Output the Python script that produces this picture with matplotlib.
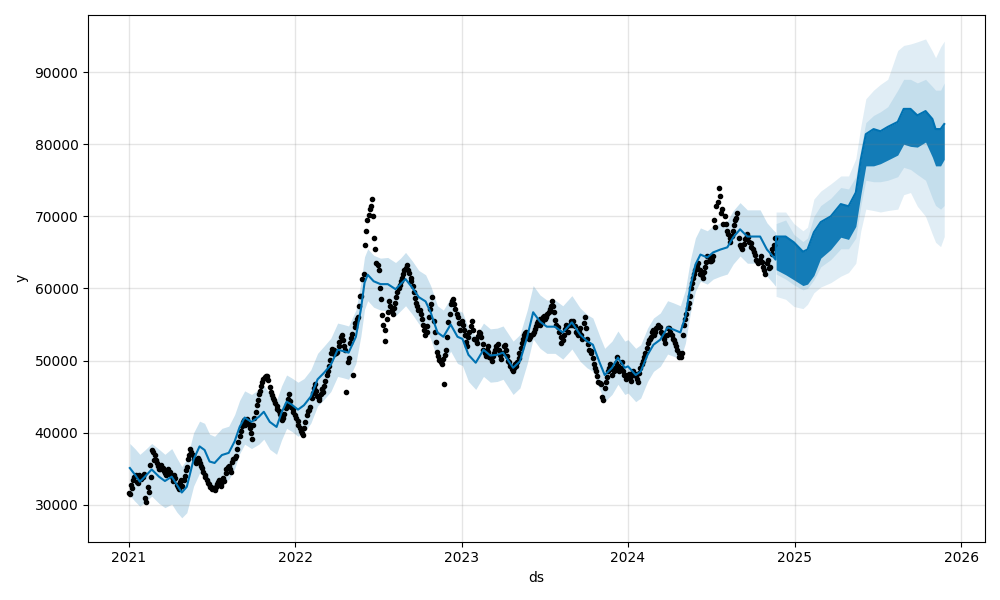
import matplotlib
matplotlib.use("Agg")
import matplotlib.pyplot as plt
import matplotlib.dates as mdates
import pandas as pd

# ---------------- observed points (6 per month per set, days below) ----------------
obs_days_a = [3, 8, 13, 18, 23, 28]
obs_days_b = [1, 6, 11, 16, 21, 26]
obs_2021 = [31500, 32300, 33800, 33200, 34200, 33600,
            34300, 30400, 31800, 33900, 37300, 36900,
            35800, 35000, 35500, 34700, 34100, 34900,
            34200, 33300, 33700, 32400, 33100, 32600,
            34000, 35300, 36900, 37300, 36400, 35800,
            36200, 35400, 34600, 33800, 33000, 32500,
            32200, 32000, 32900, 33500, 32600, 33300,
            34900, 35400, 34500, 36300, 36800, 38700,
            40200, 41500, 41000, 41900, 40600, 39100,
            42000, 43900, 45300, 46500, 47500, 47900,
            47300, 45600, 44800, 44100, 43300, 42600,
            41800, 42600, 44000, 45300, 43600, 42900]
obs_2021b = [31700, 32800, 33400, 34100, 33000, 33900,
             33800, 31000, 32500, 35500, 37600, 36200,
             36200, 35400, 34900, 35100, 34400, 34500,
             34600, 33800, 34100, 32800, 32200, 33400,
             33500, 34800, 36400, 37800, 36900, 36100,
             36500, 35800, 35100, 34200, 33400, 32900,
             32500, 32300, 32400, 33200, 32900, 33700,
             34400, 35200, 34900, 35900, 36500, 37800,
             39600, 40900, 41700, 41300, 41200, 40000,
             41000, 42800, 44600, 45800, 47000, 47700,
             47800, 46300, 45200, 44500, 43700, 43000,
             42300, 42000, 43400, 44700, 44400, 43300]
obs_2022 = [42000, 41000, 40200, 39700, 41500, 43000,
            43600, 45500, 46800, 45100, 44500, 46100,
            45600, 47100, 48600, 50100, 51600, 50900,
            51200, 52600, 53600, 52000, 45700, 50300,
            53100, 48000, 54600, 56000, 58900, 61300,
            66000, 69500, 71000, 72400, 67000, 63500,
            62500, 58500, 55000, 52700, 56800, 57500,
            56500, 58000, 59500, 60500, 61500, 62500,
            63300, 62200, 61000, 59500, 58000, 57000,
            56500, 55000, 53500, 54800, 57200, 58800,
            54000, 51200, 50100, 49500, 46800, 51500,
            55300, 57800, 58600, 57100, 56000, 54200]
obs_2022b = [42400, 41600, 40700, 40000, 40600, 42400,
             43200, 44800, 46200, 45800, 44800, 45400,
             46000, 46500, 48000, 49300, 51000, 51400,
             51000, 52000, 53200, 52800, 51500, 49800,
             52500, 53700, 55200, 55700, 57500, 59000,
             62000, 68000, 70200, 71500, 70000, 65500,
             63300, 60000, 56300, 54200, 55800, 58200,
             57000, 57300, 58800, 60000, 61000, 62000,
             62800, 62600, 61500, 60300, 58700, 57500,
             57000, 55800, 54300, 53900, 56000, 57900,
             55500, 52600, 50600, 49800, 50200, 50800,
             53200, 56500, 58200, 57800, 56500, 55200]
obs_2023 = [55000, 53500, 52000, 54000, 55500, 53000,
            52500, 54000, 53200, 51500, 50600, 52000,
            50500, 50000, 51000, 52000, 51500, 50200,
            52000, 51500, 50000, 49200, 48500, 49500,
            49800, 51000, 52500, 53500, 54000, 53000,
            53500, 54000, 54800, 55500, 55000, 56000,
            55800, 56500, 57200, 58200, 56800, 55000,
            54000, 52500, 53500, 55000, 54000, 55500,
            55500, 54000, 53500, 54500, 53000, 56100,
            53000, 51500, 51000, 49500, 48500, 47000,
            46700, 44500, 47000, 48500, 49500, 48000,
            49000, 50500, 48500, 49800, 48000, 47500]
obs_2023b = [55500, 54300, 52600, 53200, 54800, 54200,
             52800, 53400, 53800, 52300, 51000, 51400,
             51200, 50300, 50600, 51500, 52300, 50800,
             51000, 52200, 50600, 49800, 48800, 49000,
             49300, 50400, 51800, 53000, 53800, 53500,
             53200, 53700, 54400, 55200, 55700, 55300,
             56200, 56000, 56800, 57600, 57500, 55600,
             54600, 53200, 52800, 54400, 54800, 55000,
             55000, 54800, 53800, 54000, 53600, 55200,
             54500, 52300, 51300, 50300, 49000, 47800,
             46900, 45000, 46200, 47700, 49000, 48800,
             48500, 49700, 49300, 49000, 48600, 48000]
obs_2024 = [48200, 47200, 48500, 47800, 47000, 49000,
            50000, 51000, 52500, 53000, 54000, 53500,
            54500, 55000, 54000, 53500, 52500, 54500,
            54000, 53000, 52500, 51500, 50500, 51000,
            55000, 56500, 58000, 60000, 61500, 62500,
            63500, 62000, 61500, 63000, 64500, 63800,
            64000, 69500, 71500, 73900, 70500, 69000,
            69000, 67500, 66500, 68000, 69500, 70500,
            66000, 65500, 66800, 67500, 66500, 65800,
            65000, 64000, 63500, 64500, 63000, 62000,
            64000, 63000, 65500, 67000]
obs_2024b = [47800, 47600, 48000, 48200, 47400, 48300,
             49500, 50500, 51800, 52800, 53300, 54200,
             54000, 54700, 54600, 53800, 53000, 53600,
             54500, 53500, 52800, 52000, 51000, 50500,
             53500, 55800, 57300, 59000, 60800, 62000,
             63000, 62500, 61800, 62300, 63700, 64300,
             63800, 64500, 68500, 72000, 72800, 71000,
             70000, 68000, 67000, 67300, 68800, 69800,
             67000, 65800, 66200, 67000, 67200, 66300,
             65500, 64600, 63800, 64000, 63600, 62600,
             63500, 62800, 64800, 66000]

# ---------------- fitted history (yhat with interval) ----------------
hist_dates = ["2021-01-03", "2021-01-14", "2021-01-25", "2021-02-05", "2021-02-20", "2021-03-08",
              "2021-03-21", "2021-04-05", "2021-04-16", "2021-04-27", "2021-05-08", "2021-05-23",
              "2021-06-05", "2021-06-16", "2021-06-27", "2021-07-08", "2021-07-24", "2021-08-08",
              "2021-08-21", "2021-09-01", "2021-09-12", "2021-09-27", "2021-10-13", "2021-10-24",
              "2021-11-06", "2021-11-21", "2021-12-02", "2021-12-13", "2021-12-24",
              "2022-01-07", "2022-01-20", "2022-02-04", "2022-02-19", "2022-03-05", "2022-03-20",
              "2022-04-04", "2022-04-17", "2022-04-28", "2022-05-14", "2022-05-25", "2022-06-02",
              "2022-06-09", "2022-06-22", "2022-07-07", "2022-07-23", "2022-08-09", "2022-08-20",
              "2022-08-31", "2022-09-15", "2022-09-29", "2022-10-14", "2022-10-25", "2022-11-09",
              "2022-11-22", "2022-12-08", "2022-12-23",
              "2023-01-03", "2023-01-16", "2023-02-01", "2023-02-18", "2023-03-05", "2023-03-20",
              "2023-04-02", "2023-04-24", "2023-05-09", "2023-05-25", "2023-06-07", "2023-06-22",
              "2023-07-07", "2023-07-25", "2023-08-11", "2023-08-31", "2023-09-18", "2023-10-03",
              "2023-10-16", "2023-10-31", "2023-11-11", "2023-11-27", "2023-12-10", "2023-12-25",
              "2024-01-01", "2024-01-18", "2024-01-29", "2024-02-13", "2024-02-26", "2024-03-12",
              "2024-03-28", "2024-04-10", "2024-04-25", "2024-05-06", "2024-05-17", "2024-05-28",
              "2024-06-08", "2024-06-23", "2024-07-06", "2024-07-22", "2024-08-06", "2024-08-19",
              "2024-09-03", "2024-09-19", "2024-10-02", "2024-10-17", "2024-11-01", "2024-11-15",
              "2024-11-20"]
hist_yhat = [35100, 34200, 33200, 33900, 34900, 33900, 33300, 33900, 32800, 31700, 32500, 36300,
             38100, 37600, 36000, 35800, 36900, 37200, 38800, 40800, 42100, 41500, 42200, 42900,
             41500, 40800, 42800, 44300, 43900,
             43200, 43800, 45000, 47400, 48300, 49400, 51500, 51300, 51100, 53300, 57100, 60800,
             61900, 61000, 60600, 60600, 59900, 60600, 61300, 60100, 58800, 58200, 56700, 53900,
             53300, 55000, 53300,
             53000, 50800, 49700, 51500, 50700, 50800, 51100, 49000, 49900, 53300, 56700, 55400,
             54700, 54700, 53900, 55300, 53600, 52700, 52200, 49700, 48000, 49000, 50400, 49000,
             49200, 48000, 48500, 50800, 52200, 52900, 54600, 54300, 53900, 56100, 60300, 63300,
             64700, 64300, 65000, 65400, 65700, 67100, 68200, 67200, 67200, 67200, 65400, 64400,
             64000]
hist_upper = [38500, 37800, 37000, 37600, 38500, 37700, 37000, 37800, 36500, 35300, 36300, 40000,
              41600, 41300, 39800, 39500, 40600, 40900, 42500, 44500, 45800, 45300, 46000, 46600,
              45400, 44500, 46500, 48000, 47600,
              47000, 47500, 48700, 51000, 52000, 53100, 55200, 55000, 54800, 57000, 60800, 64400,
              65500, 64600, 64200, 64300, 63600, 64200, 65000, 63800, 62500, 61900, 60400, 57600,
              57000, 58700, 57000,
              56700, 54500, 53400, 55200, 54400, 54500, 54800, 52700, 53600, 57000, 60400, 59100,
              58400, 58400, 57600, 59000, 57300, 56400, 55900, 53400, 51700, 52700, 54100, 52700,
              52900, 51700, 52200, 54500, 55900, 56600, 58300, 58000, 57600, 59800, 64000, 67000,
              68400, 68000, 68700, 69100, 69400, 70800, 71900, 70900, 70900, 70900, 69100, 68100,
              67800]
hist_lower = [31300, 30500, 29800, 30300, 31200, 30200, 29600, 30100, 29000, 28200, 28900, 32600,
              34400, 33900, 32300, 32100, 33200, 33500, 35000, 37100, 38400, 37800, 38400, 39100,
              37700, 37000, 39000, 40600, 40200,
              39500, 40000, 41300, 43700, 44600, 45700, 47800, 47600, 47400, 49600, 53400, 57100,
              58300, 57400, 57000, 56900, 56200, 56900, 57600, 56400, 55100, 54500, 53000, 50200,
              49600, 51300, 49600,
              49300, 47100, 46000, 47800, 47000, 47100, 47400, 45300, 46200, 49600, 53000, 51700,
              51000, 51000, 50200, 51600, 49900, 49000, 48500, 46000, 44300, 45300, 46700, 45300,
              45500, 44300, 44800, 47100, 48500, 49200, 50900, 50600, 50200, 52400, 56600, 59600,
              61000, 60600, 61300, 61700, 62000, 63400, 64500, 63500, 63500, 63500, 61700, 60700,
              60300]

# ---------------- forecast (weekday / weekend envelopes) ----------------
fc_dates = ["2024-11-21", "2024-12-12", "2024-12-30", "2025-01-19", "2025-01-29", "2025-02-12",
            "2025-02-27", "2025-03-21", "2025-04-12", "2025-04-29", "2025-05-15", "2025-05-26",
            "2025-06-06", "2025-06-23", "2025-07-08", "2025-07-24", "2025-08-15", "2025-08-28",
            "2025-09-12", "2025-09-27", "2025-10-15", "2025-10-30", "2025-11-06", "2025-11-17",
            "2025-11-25"]
fc_hi = [67200, 67200, 66400, 65100, 65400, 67800, 69200, 70000, 71700, 71400, 73300, 77900,
         81400, 82100, 81800, 82400, 83100, 84900, 84900, 84000, 84600, 83500, 82100, 82100, 82800]
fc_lo = [62600, 61900, 61200, 60400, 60600, 61800, 64200, 65400, 67100, 66800, 68600, 73000,
         77000, 77000, 77300, 77800, 78500, 80000, 79700, 79600, 80300, 78200, 77000, 77000, 77900]
fc_up_spike = [70600, 70600, 69000, 68000, 68500, 72400, 73500, 74500, 75600, 75600, 78000, 82500,
               86300, 87500, 88300, 89000, 93000, 93700, 93900, 94200, 94600, 92900, 92000, 93500, 94300]
fc_up_solid = [69000, 69500, 67500, 66500, 67000, 70000, 71500, 72500, 74000, 73800, 75500, 79500,
               83000, 84000, 84500, 85200, 87500, 89000, 89000, 88500, 89000, 88000, 87500, 87500, 88500]
fc_low_solid = [62000, 61300, 60500, 59800, 60000, 61200, 63000, 64000, 65500, 65500, 67000, 71500,
                75000, 74800, 74800, 75000, 75500, 76800, 76500, 75800, 75000, 72500, 71500, 71000, 71500]
fc_low_spike = [58900, 58500, 57500, 57200, 57800, 59400, 60200, 60800, 61700, 62200, 63500, 68000,
                71000, 70800, 70600, 70800, 71000, 73000, 73300, 71400, 70000, 67500, 66400, 65800, 67200]

# ---------------- build ----------------
obs_x, obs_y = [], []
for year, vals, days in [(2021, obs_2021, obs_days_a), (2021, obs_2021b, obs_days_b),
                         (2022, obs_2022, obs_days_a), (2022, obs_2022b, obs_days_b),
                         (2023, obs_2023, obs_days_a), (2023, obs_2023b, obs_days_b),
                         (2024, obs_2024, obs_days_a), (2024, obs_2024b, obs_days_b)]:
    for i, v in enumerate(vals):
        obs_x.append(pd.Timestamp(year=year, month=i // 6 + 1, day=days[i % 6]))
        obs_y.append(v)
order = sorted(range(len(obs_x)), key=lambda k: obs_x[k])
obs_x = [obs_x[k] for k in order]
obs_y = [obs_y[k] for k in order]

hx = pd.to_datetime(hist_dates)
fx = pd.to_datetime(fc_dates)

blue = '#0072B2'
fig = plt.figure(facecolor='w', figsize=(10, 6), dpi=100)
ax = fig.add_subplot(111)

ax.plot(obs_x, obs_y, 'k.')
ax.fill_between(hx, hist_lower, hist_upper, color=blue, alpha=0.2, lw=0)
ax.fill_between(fx, fc_low_spike, fc_up_spike, color=blue, alpha=0.12, lw=0)
ax.fill_between(fx, fc_low_solid, fc_up_solid, color=blue, alpha=0.12, lw=0)
ax.fill_between(fx, fc_lo, fc_hi, color=blue, alpha=0.9, lw=0)
line_x = list(hx) + list(fx)
line_y = hist_yhat + fc_hi
ax.plot(line_x, line_y, ls='-', c=blue)

ax.xaxis.set_major_locator(mdates.YearLocator())
ax.xaxis.set_major_formatter(mdates.DateFormatter('%Y'))
ax.grid(True, which='major', c='gray', ls='-', lw=1, alpha=0.2)
ax.set_xlabel('ds')
ax.set_ylabel('y')
fig.tight_layout()
fig.savefig('out.png', dpi=100)
